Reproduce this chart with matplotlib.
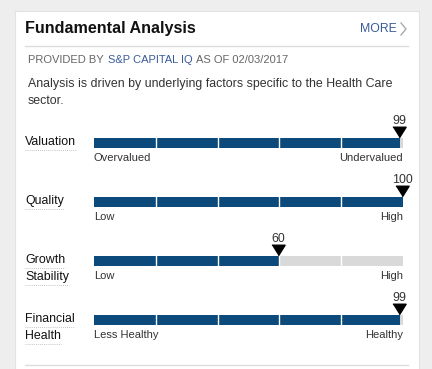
import matplotlib.pyplot as plt
from matplotlib.patches import Rectangle

plt.rcParams['font.family'] = ['Liberation Sans', 'DejaVu Sans']

# ----------------------------------------------------
# Data
# ----------------------------------------------------
categories = [["Valuation"], ["Quality"], ["Growth", "Stability"], ["Financial", "Health"]]
scores = [99, 100, 60, 99]
low_labels = ["Overvalued", "Low", "Low", "Less Healthy"]
high_labels = ["Undervalued", "High", "High", "Healthy"]
n_segments = 5

title = "Fundamental Analysis"
provider = "S&P CAPITAL IQ"
as_of = "02/03/2017"
description = ["Analysis is driven by underlying factors specific to the Health Care", "sector."]

# ----------------------------------------------------
# Styles
# ----------------------------------------------------
DARK = "#0b4a7a"
LIGHT = "#d9d9d9"
BLUE_TXT = "#3a5b9a"
GRAY_TXT = "#666666"
TXT = "#333333"

W, H = 432, 369
fig = plt.figure(figsize=(W / 100, H / 100), dpi=100)
fig.patch.set_facecolor("#eeeeee")
ax = fig.add_axes([0, 0, 1, 1])
ax.set_xlim(0, W)
ax.set_ylim(H, 0)
ax.axis("off")

# card
ax.add_patch(Rectangle((15, 11), 404, 370, facecolor="white", edgecolor="#e2e2e2", lw=0.8))

# header
ax.text(25, 29, title, fontsize=11.6, fontweight="bold", color="#111111", va="center")
ax.text(397, 29, "MORE", fontsize=8.8, color=BLUE_TXT, va="center", ha="right")
ax.plot([401, 406, 401], [23, 29, 35], color="#aaaaaa", lw=1)
ax.plot([25, 408], [46, 46], color="#dddddd", lw=1)

# provided by line (three coloured pieces)
fig.canvas.draw()
r = fig.canvas.get_renderer()
t1 = ax.text(28, 60, "PROVIDED BY", fontsize=8, color=GRAY_TXT, va="center")
x1 = 28 + t1.get_window_extent(r).width + 4
t2 = ax.text(x1, 60, provider, fontsize=8, color=BLUE_TXT, va="center")
x2 = x1 + t2.get_window_extent(r).width + 4
ax.text(x2, 60, "AS OF " + as_of, fontsize=8, color=GRAY_TXT, va="center")

for i, line in enumerate(description):
    ax.text(28, 84 + i * 17, line, fontsize=8.9, color=TXT, va="center")

# ----------------------------------------------------
# Gauges
# ----------------------------------------------------
bar_x0, bar_x1 = 94, 403
bar_w = bar_x1 - bar_x0
bar_h = 10
bar_tops = [138, 197, 256, 315]

for cat, score, lo, hi, top in zip(categories, scores, low_labels, high_labels, bar_tops):
    yc = top + bar_h / 2
    filled = bar_w * score / 100
    ax.barh(yc, bar_w, left=bar_x0, height=bar_h, color=LIGHT)
    ax.barh(yc, filled, left=bar_x0, height=bar_h, color=DARK)
    for k in range(1, n_segments):
        xs = bar_x0 + bar_w * k / n_segments
        ax.plot([xs, xs], [top, top + bar_h], color="white", lw=1)

    xm = bar_x0 + filled
    ax.plot(xm - 1, top - 6, marker=[(-1.25, 1), (1.25, 1), (0, -1)], markersize=9.5,
            color="black", lw=0)
    ax.text(xm - 1, top - 17, str(score), fontsize=8.9, color=TXT, ha="center", va="center")

    ax.text(bar_x0, top + 20, lo, fontsize=8, color=TXT, va="center")
    ax.text(bar_x1, top + 20, hi, fontsize=8, color=TXT, va="center", ha="right")

    for j, word in enumerate(cat):
        ty = top + 4 + j * 17
        t = ax.text(25, ty, word, fontsize=8.9, color="#111111", va="center")
        tw = t.get_window_extent(r).width
        ax.plot([25, 25 + tw], [ty + 8, ty + 8], color="#b0b0b0", lw=0.6, ls=(0, (1, 1.5)))

ax.plot([25, 408], [365, 365], color="#dddddd", lw=1)

fig.savefig("out.png", dpi=100, facecolor=fig.get_facecolor())
